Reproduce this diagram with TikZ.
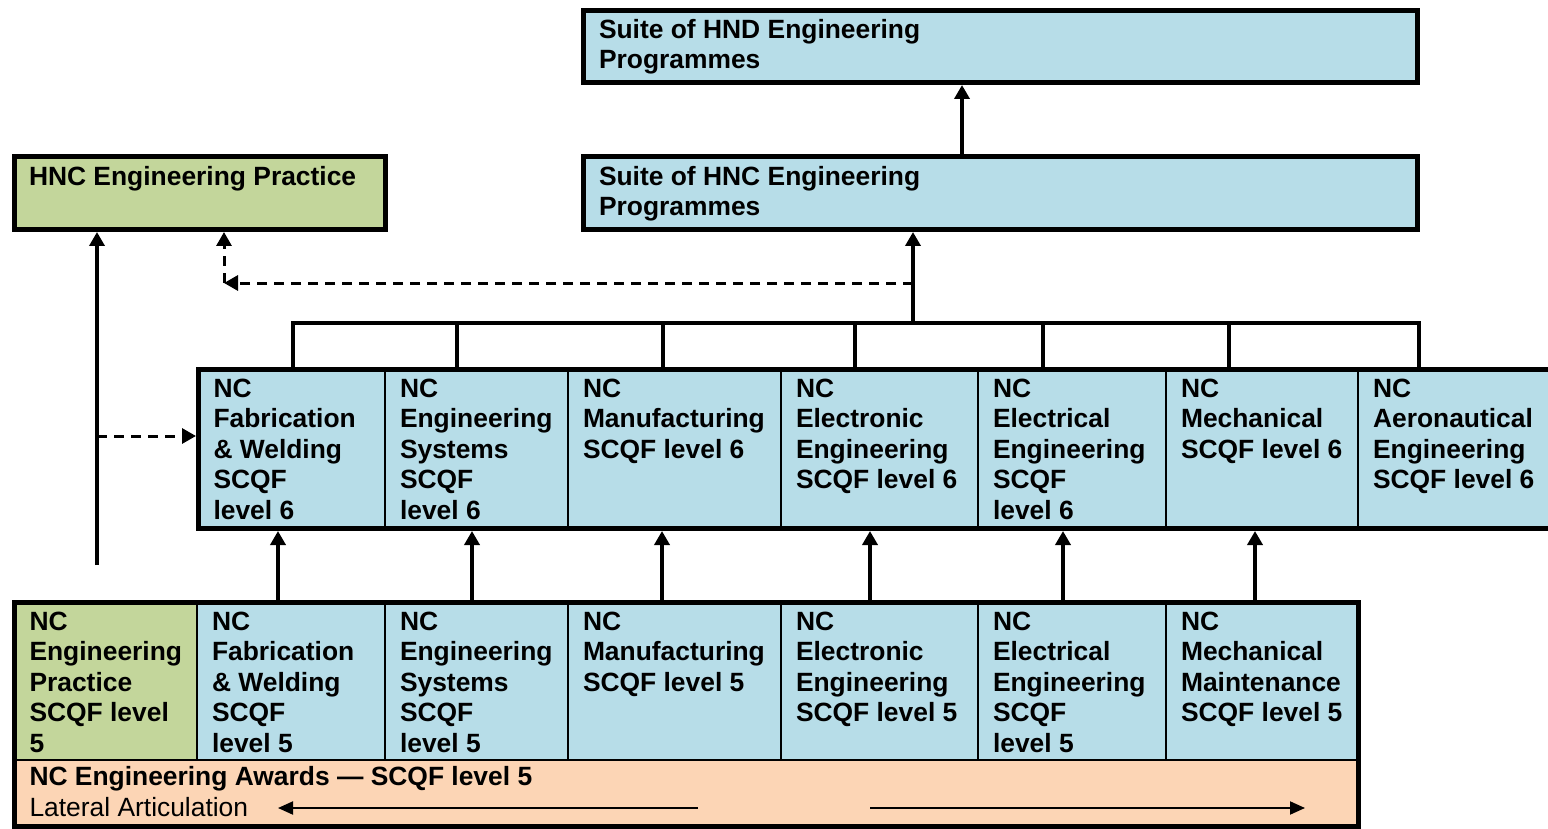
\documentclass[tikz,border=0pt]{standalone}
\usepackage{fontspec}
\setmainfont{Liberation Sans}
\usetikzlibrary{arrows.meta}
\definecolor{hnblue}{HTML}{B7DDE8}
\definecolor{pracgreen}{HTML}{C3D69B}
\definecolor{awardorange}{HTML}{FCD5B5}
\newcommand{\boxtext}[3]{\parbox[t][#2][t]{#1}{\raggedright\hyphenpenalty=10000 #3}}

\begin{document}
\begin{tikzpicture}[x=1pt,y=-1pt,
    cell/.style={draw=black, line width=1.5pt, anchor=north west, outer sep=0pt, inner xsep=15pt, inner ysep=9.5pt,
                 font=\fontsize{26.4}{30.5}\selectfont\bfseries},
    suite/.style={cell, line width=5pt, outer sep=2.5pt, fill=hnblue},
    rowframe/.style={draw=black, line width=5pt, anchor=north west, outer sep=2.5pt, inner sep=0pt},
    arr/.style={line width=3.5pt, -{Triangle[length=14pt,width=15pt]}},
    darr/.style={arr, line width=3pt, dash pattern=on 10pt off 7pt},
    latarr/.style={line width=2pt, -{Triangle[length=15pt,width=13pt]}},
    link/.style={line width=3.5pt}]
    \useasboundingbox (0,0) rectangle (1548,829);
    \clip (0,0) rectangle (1548,829);

    % HN programmes
    \node[suite, inner xsep=15.5pt, inner ysep=8.5pt] (hnd) at (581,8) {\boxtext{803pt}{55pt}{Suite of HND Engineering\\Programmes}};
    \node[suite, inner xsep=15.5pt] (hnc) at (581,154) {\boxtext{803pt}{54pt}{Suite of HNC Engineering\\Programmes}};
    \node[suite, fill=pracgreen, inner xsep=14.5pt] (hncp) at (12,154) {\boxtext{342pt}{54pt}{HNC Engineering Practice}};

    % level 6 row
    \node[cell, fill=hnblue] (fab6) at (198.5,369.5) {\boxtext{156.5pt}{140pt}{NC\\Fabrication\\\& Welding\\SCQF\\level 6}};
    \node[cell, fill=hnblue] (sys6) at (385,369.5) {\boxtext{153pt}{140pt}{NC\\Engineering\\Systems\\SCQF\\level 6}};
    \node[cell, fill=hnblue] (man6) at (568,369.5) {\boxtext{183pt}{140pt}{NC\\Manufacturing\\SCQF level 6}};
    \node[cell, fill=hnblue] (elc6) at (781,369.5) {\boxtext{167pt}{140pt}{NC\\Electronic\\Engineering\\SCQF level 6}};
    \node[cell, fill=hnblue] (ele6) at (978,369.5) {\boxtext{158pt}{140pt}{NC\\Electrical\\Engineering\\SCQF\\level 6}};
    \node[cell, fill=hnblue] (mec6) at (1166,369.5) {\boxtext{162pt}{140pt}{NC\\Mechanical\\SCQF level 6}};
    \node[cell, fill=hnblue] (aer6) at (1358,369.5) {\boxtext{172pt}{140pt}{NC\\Aeronautical\\Engineering\\SCQF level 6}};
    \node[rowframe, minimum width=1361.5pt, minimum height=159pt] (row6) at (196,367) {};

    % level 5 row
    \node[cell, fill=pracgreen] (prac5) at (14.5,602.5) {\boxtext{152.5pt}{138.5pt}{NC\\Engineering\\Practice\\SCQF level\\5}};
    \node[cell, fill=hnblue] (fab5) at (197,602.5) {\boxtext{158pt}{138.5pt}{NC\\Fabrication\\\& Welding\\SCQF\\level 5}};
    \node[cell, fill=hnblue] (sys5) at (385,602.5) {\boxtext{153pt}{138.5pt}{NC\\Engineering\\Systems\\SCQF\\level 5}};
    \node[cell, fill=hnblue] (man5) at (568,602.5) {\boxtext{183pt}{138.5pt}{NC\\Manufacturing\\SCQF level 5}};
    \node[cell, fill=hnblue] (elc5) at (781,602.5) {\boxtext{167pt}{138.5pt}{NC\\Electronic\\Engineering\\SCQF level 5}};
    \node[cell, fill=hnblue] (ele5) at (978,602.5) {\boxtext{158pt}{138.5pt}{NC\\Electrical\\Engineering\\SCQF\\level 5}};
    \node[cell, fill=hnblue] (mec5) at (1166,602.5) {\boxtext{162.5pt}{138.5pt}{NC\\Mechanical\\Maintenance\\SCQF level 5}};
    \node[cell, fill=awardorange, inner ysep=6.4pt] (awards) at (14.5,760) {\boxtext{1314pt}{53.7pt}{NC Engineering Awards — SCQF level 5\\\mdseries Lateral Articulation}};
    \node[rowframe, minimum width=1344pt, minimum height=224pt] (row5) at (12,600) {};

    % HNC to HND
    \draw[arr] (962,0 |- hnc.north) -- (962,0 |- hnd.south);

    % level 6 to HNC
    \coordinate (hub) at (913,323);
    \draw[link] (291.25,323) -- (1420.75,323);
    \foreach \x in {293,457,663,855,1043,1229,1419}
        \draw[link] (\x,323) -- (\x,0 |- row6.north);
    \draw[arr] (hub) -- (hub |- hnc.south);

    % dashed routes to HNC Engineering Practice
    \coordinate (dsplit) at (913,283);
    \coordinate (dturn) at (224,283);
    \draw[darr] (dsplit) -- (dturn);
    \draw[darr] (dturn) -- (dturn |- hncp.south);
    \coordinate (pbase) at (97,565);
    \coordinate (ptap) at (97,436);
    \draw[arr] (pbase) -- (pbase |- hncp.south);
    \draw[darr] (ptap) -- (ptap -| row6.west);

    % level 5 to level 6
    \foreach \x in {278,472,662,870,1063,1255}
        \draw[arr] (\x,0 |- row5.north) -- (\x,0 |- row6.south);

    % lateral articulation
    \coordinate (latL) at (278,808);
    \coordinate (latLs) at (698,808);
    \coordinate (latRs) at (870,808);
    \coordinate (latR) at (1305,808);
    \draw[latarr] (latLs) -- (latL);
    \draw[latarr] (latRs) -- (latR);
\end{tikzpicture}
\end{document}
